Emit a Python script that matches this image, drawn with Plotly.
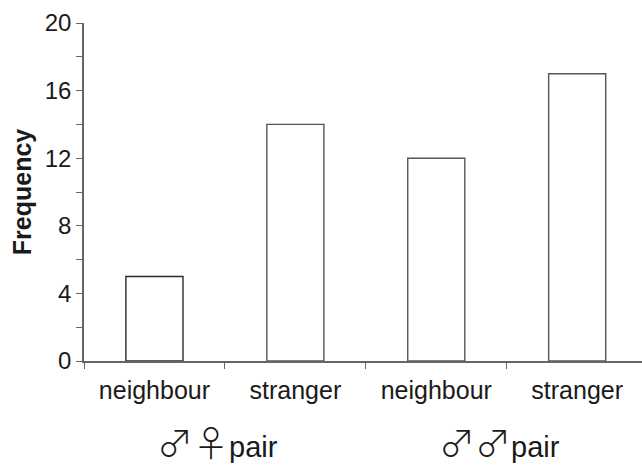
import plotly.graph_objects as go

# Observation counts per encounter type
categories = ["neighbour", "stranger", "neighbour ", "stranger "]
tick_text = ["neighbour", "stranger", "neighbour", "stranger"]
frequency = [5, 14, 12, 17]
group_labels = ["♂♀", "♂♂"]
group_suffix = "pair"
y_ticks = [0, 4, 8, 12, 16, 20]

outline_colors = ["#2a2a2a", "#555555", "#555555", "#555555"]

fig = go.Figure()
fig.add_trace(go.Bar(
    x=categories,
    y=frequency,
    width=0.405,
    marker=dict(color="white", line=dict(color=outline_colors, width=1.4)),
    showlegend=False,
))

axis_color = "#666666"
font_family = "Liberation Sans, Arial, sans-serif"

fig.update_xaxes(
    type="category",
    range=[-0.5, 3.46],
    tickmode="array",
    tickvals=categories,
    ticktext=tick_text,
    tickson="boundaries",
    ticks="outside",
    ticklen=6,
    tickwidth=1.4,
    tickcolor=axis_color,
    ticklabelstandoff=6,
    showline=True,
    linecolor=axis_color,
    linewidth=1.5,
    showgrid=False,
    zeroline=False,
    tickfont=dict(family=font_family, size=25, color="#1a1a1a"),
)

fig.update_yaxes(
    range=[0, 20],
    tickmode="array",
    tickvals=y_ticks,
    ticks="outside",
    ticklen=6,
    tickwidth=1.4,
    tickcolor=axis_color,
    minor=dict(dtick=4, tick0=2, ticks="outside", ticklen=6, tickwidth=1.4, tickcolor=axis_color),
    showline=True,
    linecolor=axis_color,
    linewidth=1.5,
    showgrid=False,
    zeroline=False,
    tickfont=dict(family=font_family, size=24, color="#1a1a1a"),
    title=dict(text="<b>Frequency</b>", font=dict(family=font_family, size=25, color="#1a1a1a"), standoff=6),
)

# Group captions beneath each pair of bars
for i, sym in enumerate(group_labels):
    fig.add_annotation(
        x=2 * i + 0.45,
        xref="x",
        y=0,
        yref="paper",
        yshift=-80,
        yanchor="middle",
        showarrow=False,
        text=f'<span style="font-family:Noto Sans CJK JP;font-weight:300;font-size:36px">{sym}</span>{group_suffix}',
        font=dict(family=font_family, size=29, color="#1a1a1a"),
    )

fig.update_layout(
    width=642,
    height=468,
    margin=dict(l=84, r=0, t=23, b=107),
    plot_bgcolor="white",
    paper_bgcolor="white",
    bargap=0.6,
)

fig.write_html("out.html")
